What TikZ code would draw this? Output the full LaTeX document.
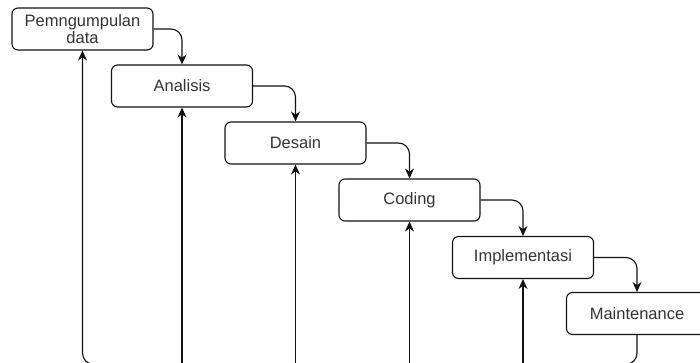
\documentclass[tikz,border=0pt]{standalone}
\usepackage{fontspec}
\setmainfont{Liberation Sans}
\usetikzlibrary{arrows.meta}
\definecolor{textgrey}{HTML}{333333}
\definecolor{linegrey}{HTML}{111111}
\begin{document}
\begin{tikzpicture}[x=1pt,y=-1pt,
  stage/.style={draw=linegrey, line width=1.1pt, rounded corners=6pt,
    minimum width=141pt, minimum height=42pt, inner sep=0pt, align=center,
    text=textgrey, font=\fontsize{16.5}{16.5}\selectfont},
  flow/.style={draw=linegrey, line width=1.1pt, rounded corners=11pt,
    -{Stealth[length=10pt,width=9pt]}},
]
\useasboundingbox (0,0) rectangle (700,362);
\clip (0,0) rectangle (700,362);
\fill[white] (0,0) rectangle (700,362);

\node[stage] (b1) at (82.5,29) {Pemngumpulan\\data};
\node[stage] (b2) at (182,86) {Analisis};
\node[stage] (b3) at (295.5,143) {Desain};
\node[stage] (b4) at (409.5,200) {Coding};
\node[stage] (b5) at (523,257.5) {Implementasi};
\node[stage] (b6) at (637,313.5) {Maintenance};

\draw[flow] (b1.east) -| (b2.north);
\draw[flow] (b2.east) -| (b3.north);
\draw[flow] (b3.east) -| (b4.north);
\draw[flow] (b4.east) -| (b5.north);
\draw[flow] (b5.east) -| (b6.north);

\coordinate (base) at (0,364.2);
\coordinate (c6) at (b6.south |- base);
\coordinate (c1) at (b1.south |- base);
\coordinate (c2) at (b2.south |- base);
\coordinate (c3) at (b3.south |- base);
\coordinate (c4) at (b4.south |- base);
\coordinate (c5) at (b5.south |- base);

\draw[flow] (b6.south) -- (c6) -- (c1) -- (b1.south);
\draw[flow] (c2) -- (b2.south);
\draw[flow] (c3) -- (b3.south);
\draw[flow] (c4) -- (b4.south);
\draw[flow] (c5) -- (b5.south);
\end{tikzpicture}
\end{document}
